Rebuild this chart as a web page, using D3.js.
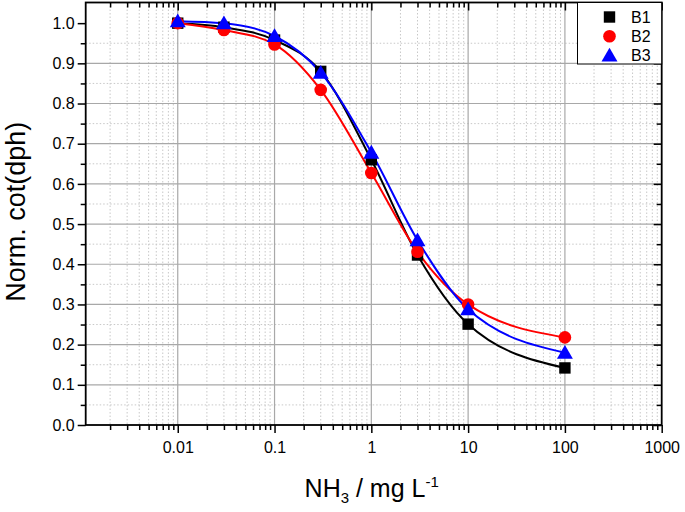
<!DOCTYPE html>
<html>
<head>
<meta charset="utf-8">
<script src="https://cdn.jsdelivr.net/npm/d3@7"></script>
<style>
  html, body { margin: 0; padding: 0; background: #fff; }
  svg { display: block; font-family: "Liberation Sans", Arial, sans-serif; }
</style>
</head>
<body>
<svg id="chart" width="685" height="512"></svg>
<script>
// ---- data ----
const concentrations = [0.01, 0.03, 0.1, 0.3, 1, 3, 10, 100];
const seriesNames = ["B1", "B2", "B3"];
const valuesB1 = [1.000, 0.990, 0.958, 0.880, 0.660, 0.423, 0.251, 0.142];
const valuesB2 = [1.000, 0.983, 0.947, 0.834, 0.627, 0.431, 0.300, 0.218];
const valuesB3 = [1.005, 1.000, 0.968, 0.877, 0.678, 0.460, 0.288, 0.180];
const xTickValues = [0.01, 0.1, 1, 10, 100, 1000];
const xTickLabels = ["0.01", "0.1", "1", "10", "100", "1000"];
const yTickValues = [0.0, 0.1, 0.2, 0.3, 0.4, 0.5, 0.6, 0.7, 0.8, 0.9, 1.0];
const yTickLabels = ["0.0", "0.1", "0.2", "0.3", "0.4", "0.5", "0.6", "0.7", "0.8", "0.9", "1.0"];

const seriesValues = [valuesB1, valuesB2, valuesB3];
const colors = ["#000000", "#ff0000", "#0000ff"];
const symbols = [d3.symbolSquare, d3.symbolCircle, d3.symbolTriangle];

const svg = d3.select("#chart");
const L = 85.7, R = 661.7, T = 2.5, B = 425;

const x = d3.scaleLog().domain([Math.pow(10, -2.951), 1000]).range([L, R]);
const y = d3.scaleLinear().domain([0, 1.0514]).range([B, T]);

// minor tick values
const xMinor = [];
for (let e = -3; e <= 2; e++) {
  for (let m = 2; m <= 9; m++) {
    const v = m * Math.pow(10, e);
    if (v >= x.domain()[0] && v <= 1000) xMinor.push(v);
  }
}
const yMinor = d3.range(0.05, 1.05, 0.1);

// ---- grid ----
const grid = svg.append("g");
grid.selectAll(".vminor").data(xMinor).enter().append("line")
  .attr("x1", d => x(d)).attr("x2", d => x(d)).attr("y1", T).attr("y2", B)
  .attr("stroke", "#c8c8c8").attr("stroke-width", 1).attr("stroke-dasharray", "1.5,2");
grid.selectAll(".hminor").data(yMinor).enter().append("line")
  .attr("y1", d => y(d)).attr("y2", d => y(d)).attr("x1", L).attr("x2", R)
  .attr("stroke", "#c8c8c8").attr("stroke-width", 1).attr("stroke-dasharray", "1.5,2");
grid.selectAll(".vmajor").data(xTickValues.filter(v => v < 1000)).enter().append("line")
  .attr("x1", d => x(d)).attr("x2", d => x(d)).attr("y1", T).attr("y2", B)
  .attr("stroke", "#a8a8a8").attr("stroke-width", 1.2);
grid.selectAll(".hmajor").data(yTickValues.filter(v => v > 0 && v < 0.95)).enter().append("line")
  .attr("y1", d => y(d)).attr("y2", d => y(d)).attr("x1", L).attr("x2", R)
  .attr("stroke", "#a8a8a8").attr("stroke-width", 1.2);

// ---- axes ----
const fmtX = v => xTickLabels[xTickValues.indexOf(v)];
const fmtY = v => yTickLabels[yTickValues.findIndex(t => Math.abs(t - v) < 1e-9)];

function styleAxis(g) {
  g.select(".domain").remove();
  g.selectAll(".tick line").attr("stroke", "#000").attr("stroke-width", 1.5);
  g.selectAll(".tick text").attr("fill", "#000").attr("font-size", 16)
    .attr("font-family", "'Liberation Sans', Arial, sans-serif");
}

// bottom
const gxMinor = svg.append("g").attr("transform", `translate(0,${B})`)
  .call(d3.axisBottom(x).tickValues(xMinor).tickSize(5).tickFormat(""));
styleAxis(gxMinor);
const gx = svg.append("g").attr("transform", `translate(0,${B})`)
  .call(d3.axisBottom(x).tickValues(xTickValues).tickSize(8).tickPadding(9).tickFormat(fmtX));
styleAxis(gx);
// top (inward)
const gtMinor = svg.append("g").attr("transform", `translate(0,${T})`)
  .call(d3.axisBottom(x).tickValues(xMinor).tickSize(5).tickFormat(""));
styleAxis(gtMinor);
const gt = svg.append("g").attr("transform", `translate(0,${T})`)
  .call(d3.axisBottom(x).tickValues(xTickValues).tickSize(8).tickFormat(""));
styleAxis(gt);
// left
const gyMinor = svg.append("g").attr("transform", `translate(${L},0)`)
  .call(d3.axisLeft(y).tickValues(yMinor).tickSize(5).tickFormat(""));
styleAxis(gyMinor);
const gy = svg.append("g").attr("transform", `translate(${L},0)`)
  .call(d3.axisLeft(y).tickValues(yTickValues).tickSize(8).tickPadding(3).tickFormat(fmtY));
styleAxis(gy);
// right (inward)
const grMinor = svg.append("g").attr("transform", `translate(${R},0)`)
  .call(d3.axisLeft(y).tickValues(yMinor).tickSize(5).tickFormat(""));
styleAxis(grMinor);
const gr = svg.append("g").attr("transform", `translate(${R},0)`)
  .call(d3.axisLeft(y).tickValues(yTickValues).tickSize(8).tickFormat(""));
styleAxis(gr);

// frame
svg.append("rect").attr("x", L).attr("y", T).attr("width", R - L).attr("height", B - T)
  .attr("fill", "none").attr("stroke", "#000").attr("stroke-width", 1.8);

// ---- curves ----
const line = d3.line().x(d => x(d[0])).y(d => y(d[1])).curve(d3.curveMonotoneX);
seriesValues.forEach((vals, i) => {
  svg.append("path").datum(concentrations.map((c, j) => [c, vals[j]]))
    .attr("d", line).attr("fill", "none").attr("stroke", colors[i]).attr("stroke-width", 2);
});

// ---- markers ----
const symSizes = [130, 125, 110];
seriesValues.forEach((vals, i) => {
  svg.append("g").selectAll("path").data(concentrations.map((c, j) => [c, vals[j]]))
    .enter().append("path")
    .attr("d", d3.symbol().type(symbols[i]).size(symSizes[i]))
    .attr("transform", d => `translate(${x(d[0])},${y(d[1]) + (i === 2 ? 1.5 : 0)})`)
    .attr("fill", colors[i]);
});

// ---- legend ----
const lg = svg.append("g");
lg.append("rect").attr("x", 577.5).attr("y", T).attr("width", R - 577.5).attr("height", 64 - T)
  .attr("fill", "#fff").attr("stroke", "#000").attr("stroke-width", 1);
seriesNames.forEach((name, i) => {
  const cy = 17 + i * 19.2;
  lg.append("path").attr("d", d3.symbol().type(symbols[i]).size(symSizes[i]))
    .attr("transform", `translate(609.5,${cy + (i === 2 ? 1.5 : 0)})`).attr("fill", colors[i]);
  lg.append("text").attr("x", 631).attr("y", cy + 6).attr("font-size", 16).attr("fill", "#000")
    .text(name);
});

// ---- titles ----
const xt = svg.append("text").attr("x", (L + R) / 2 - 2).attr("y", 497)
  .attr("text-anchor", "middle").attr("font-size", 25).attr("fill", "#000");
xt.append("tspan").text("NH");
xt.append("tspan").attr("font-size", 15).attr("dy", 6).text("3");
xt.append("tspan").attr("dy", -6).text(" / mg L");
xt.append("tspan").attr("font-size", 15).attr("dy", -10).text("-1");

svg.append("text").attr("transform", `translate(25,${(T + B) / 2 - 2}) rotate(-90)`)
  .attr("text-anchor", "middle").attr("font-size", 27).attr("fill", "#000")
  .text("Norm. cot(dph)");
</script>
</body>
</html>
